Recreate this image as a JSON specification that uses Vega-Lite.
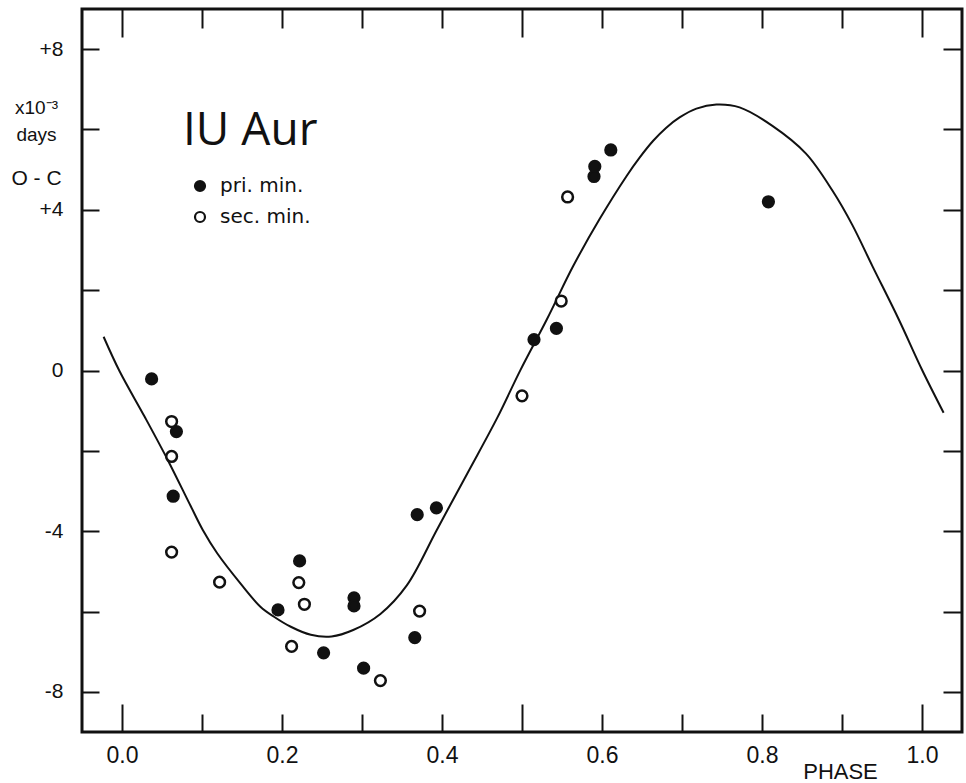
{
  "$schema": "https://vega.github.io/schema/vega-lite/v6.json",
  "width": 880,
  "height": 723,
  "autosize": {"type": "none"},
  "padding": {"left": 82, "top": 9, "right": 4, "bottom": 51},
  "background": "white",
  "title": {
    "text": "IU Aur",
    "anchor": "start",
    "frame": "group",
    "orient": "top",
    "baseline": "alphabetic",
    "offset": 0,
    "dx": 101,
    "dy": 183,
    "font": "Open Sans",
    "fontSize": 46,
    "fontWeight": "normal",
    "color": "#111"
  },
  "datasets": {
    "curve": [
      {"phase": -0.023, "oc": 0.84},
      {"phase": -0.003, "oc": -0.02},
      {"phase": 0.028, "oc": -1.14},
      {"phase": 0.057, "oc": -2.22},
      {"phase": 0.086, "oc": -3.38},
      {"phase": 0.101, "oc": -3.97},
      {"phase": 0.119, "oc": -4.55},
      {"phase": 0.148, "oc": -5.3},
      {"phase": 0.173, "oc": -5.88},
      {"phase": 0.19, "oc": -6.13},
      {"phase": 0.211, "oc": -6.38},
      {"phase": 0.236, "oc": -6.58},
      {"phase": 0.262, "oc": -6.62},
      {"phase": 0.289, "oc": -6.46},
      {"phase": 0.323, "oc": -6.06},
      {"phase": 0.356, "oc": -5.35},
      {"phase": 0.394, "oc": -3.95},
      {"phase": 0.432, "oc": -2.55},
      {"phase": 0.469, "oc": -1.18},
      {"phase": 0.498, "oc": 0.01},
      {"phase": 0.531, "oc": 1.27},
      {"phase": 0.564, "oc": 2.6},
      {"phase": 0.597, "oc": 3.77},
      {"phase": 0.631, "oc": 4.85},
      {"phase": 0.647, "oc": 5.3},
      {"phase": 0.664, "oc": 5.72},
      {"phase": 0.68, "oc": 6.04},
      {"phase": 0.697, "oc": 6.3},
      {"phase": 0.718, "oc": 6.52},
      {"phase": 0.743, "oc": 6.62},
      {"phase": 0.772, "oc": 6.55},
      {"phase": 0.813, "oc": 6.09},
      {"phase": 0.855, "oc": 5.4},
      {"phase": 0.888, "oc": 4.48},
      {"phase": 0.913, "oc": 3.62},
      {"phase": 0.938, "oc": 2.6},
      {"phase": 0.971, "oc": 1.27},
      {"phase": 1.0, "oc": 0.02},
      {"phase": 1.027, "oc": -1.05}
    ],
    "obs": [
      {"phase": 0.037, "oc": -0.21, "type": "pri. min."},
      {"phase": 0.068, "oc": -1.52, "type": "pri. min."},
      {"phase": 0.064, "oc": -3.13, "type": "pri. min."},
      {"phase": 0.195, "oc": -5.96, "type": "pri. min."},
      {"phase": 0.222, "oc": -4.74, "type": "pri. min."},
      {"phase": 0.252, "oc": -7.03, "type": "pri. min."},
      {"phase": 0.29, "oc": -5.66, "type": "pri. min."},
      {"phase": 0.29, "oc": -5.86, "type": "pri. min."},
      {"phase": 0.302, "oc": -7.41, "type": "pri. min."},
      {"phase": 0.366, "oc": -6.65, "type": "pri. min."},
      {"phase": 0.369, "oc": -3.59, "type": "pri. min."},
      {"phase": 0.393, "oc": -3.42, "type": "pri. min."},
      {"phase": 0.515, "oc": 0.77, "type": "pri. min."},
      {"phase": 0.543, "oc": 1.05, "type": "pri. min."},
      {"phase": 0.59, "oc": 4.83, "type": "pri. min."},
      {"phase": 0.591, "oc": 5.08, "type": "pri. min."},
      {"phase": 0.611, "oc": 5.49, "type": "pri. min."},
      {"phase": 0.808, "oc": 4.2, "type": "pri. min."},
      {"phase": 0.062, "oc": -1.27, "type": "sec. min."},
      {"phase": 0.062, "oc": -2.14, "type": "sec. min."},
      {"phase": 0.062, "oc": -4.52, "type": "sec. min."},
      {"phase": 0.122, "oc": -5.27, "type": "sec. min."},
      {"phase": 0.212, "oc": -6.87, "type": "sec. min."},
      {"phase": 0.221, "oc": -5.28, "type": "sec. min."},
      {"phase": 0.228, "oc": -5.82, "type": "sec. min."},
      {"phase": 0.323, "oc": -7.72, "type": "sec. min."},
      {"phase": 0.372, "oc": -5.99, "type": "sec. min."},
      {"phase": 0.5, "oc": -0.63, "type": "sec. min."},
      {"phase": 0.549, "oc": 1.73, "type": "sec. min."},
      {"phase": 0.557, "oc": 4.32, "type": "sec. min."}
    ]
  },
  "resolve": {"axis": {"x": "independent", "y": "independent"}},
  "layer": [
    {
      "data": {"name": "curve"},
      "mark": {"type": "line", "color": "#111", "strokeWidth": 2, "interpolate": "catmull-rom"},
      "encoding": {
        "x": {
          "field": "phase", "type": "quantitative",
          "scale": {"domain": [-0.05, 1.05], "nice": false, "zero": false},
          "axis": {
            "orient": "bottom",
            "values": [0, 0.2, 0.4, 0.6, 0.8, 1.0],
            "format": ".1f",
            "ticks": false, "domain": false, "grid": false,
            "labelFont": "Liberation Sans Narrow, Liberation Sans, sans-serif",
            "labelFontSize": 23,
            "labelColor": "#111",
            "labelBaseline": "alphabetic",
            "labelPadding": 30,
            "labelFlush": false,
            "labelOverlap": false,
            "title": "PHASE",
            "titleFont": "Liberation Sans Narrow, Liberation Sans, sans-serif",
            "titleFontSize": 22,
            "titleFontWeight": "normal",
            "titleColor": "#111",
            "titleAlign": "center",
            "titleBaseline": "alphabetic",
            "titleAnchor": null,
            "titleX": 758,
            "titleY": 46
          }
        },
        "y": {
          "field": "oc", "type": "quantitative",
          "scale": {"domain": [-9, 9], "nice": false, "zero": false},
          "axis": {
            "orient": "left",
            "values": [-8, -4, 0, 4, 8],
            "labelExpr": "datum.value > 0 ? '+' + datum.value : '' + datum.value",
            "ticks": false, "domain": false, "grid": false,
            "labelFont": "Liberation Sans, sans-serif",
            "labelFontSize": 21,
            "labelColor": "#111",
            "labelPadding": 19,
            "title": ["x10⁻³", "days"],
            "titleFont": "Liberation Sans, sans-serif",
            "titleFontSize": 19,
            "titleFontWeight": "normal",
            "titleColor": "#111",
            "titleAngle": 0,
            "titleAlign": "center",
            "titleBaseline": "alphabetic",
            "titleAnchor": null,
            "titleLineHeight": 27,
            "titleX": -46,
            "titleY": 104
          }
        }
      }
    },
    {
      "data": {"name": "obs"},
      "mark": {"type": "point", "shape": "circle", "filled": true, "stroke": "#111", "strokeWidth": 2.5, "opacity": 1, "size": 115},
      "encoding": {
        "x": {
          "field": "phase", "type": "quantitative",
          "scale": {"domain": [-0.05, 1.05], "nice": false, "zero": false},
          "axis": {
            "orient": "bottom",
            "values": [0, 0.1, 0.2, 0.3, 0.4, 0.5, 0.6, 0.7, 0.8, 0.9, 1.0],
            "labels": false, "domain": false, "grid": false,
            "tickColor": "#111", "tickWidth": 2,
            "tickSize": {"condition": {"test": "datum.value == 0 || datum.value == 0.5 || datum.value == 1", "value": -28}, "value": -18},
            "title": null
          }
        },
        "y": {
          "field": "oc", "type": "quantitative",
          "scale": {"domain": [-9, 9], "nice": false, "zero": false},
          "axis": {
            "orient": "left",
            "values": [-8, -6, -4, -2, 0, 2, 4, 6, 8],
            "labels": false, "domain": false, "grid": false,
            "tickColor": "#111", "tickWidth": 2, "tickSize": -17,
            "title": "O - C",
            "titleFont": "Liberation Sans, sans-serif",
            "titleFontSize": 21,
            "titleFontWeight": "normal",
            "titleColor": "#111",
            "titleAngle": 0,
            "titleAlign": "center",
            "titleBaseline": "alphabetic",
            "titleAnchor": null,
            "titleX": -46,
            "titleY": 175
          }
        },
        "fill": {
          "field": "type", "type": "nominal",
          "scale": {"domain": ["pri. min.", "sec. min."], "range": ["#111", "white"]},
          "legend": {
            "title": null,
            "orient": "none",
            "legendX": 108,
            "legendY": 167,
            "padding": 0,
            "symbolType": "circle",
            "symbolSize": 100,
            "symbolStrokeColor": "#111",
            "symbolStrokeWidth": 2.2,
            "labelFont": "DejaVu Sans, sans-serif",
            "labelFontSize": 20,
            "labelColor": "#111",
            "labelOffset": 10,
            "rowPadding": 11
          }
        }
      }
    },
    {
      "mark": {"type": "rule", "color": "#111", "strokeWidth": 2},
      "encoding": {
        "y": {
          "datum": 0, "type": "quantitative",
          "scale": {"domain": [-9, 9], "nice": false, "zero": false},
          "axis": {
            "orient": "right",
            "values": [-8, -6, -4, -2, 0, 2, 4, 6, 8],
            "labels": false, "domain": false, "grid": false,
            "tickColor": "#111", "tickWidth": 2, "tickSize": -19,
            "title": null
          }
        },
        "x": {
          "datum": -0.05, "type": "quantitative",
          "scale": {"domain": [-0.05, 1.05], "nice": false, "zero": false},
          "axis": {
            "orient": "top",
            "values": [0, 0.1, 0.2, 0.3, 0.4, 0.5, 0.6, 0.7, 0.8, 0.9, 1.0],
            "labels": false, "domain": false, "grid": false,
            "tickColor": "#111", "tickWidth": 2,
            "tickSize": {"condition": {"test": "datum.value == 0 || datum.value == 0.5 || datum.value == 1", "value": -28}, "value": -19},
            "title": null
          }
        },
        "x2": {"datum": 1.05}
      }
    }
  ],
  "config": {
    "view": {"stroke": "#111", "strokeWidth": 3}
  }
}
